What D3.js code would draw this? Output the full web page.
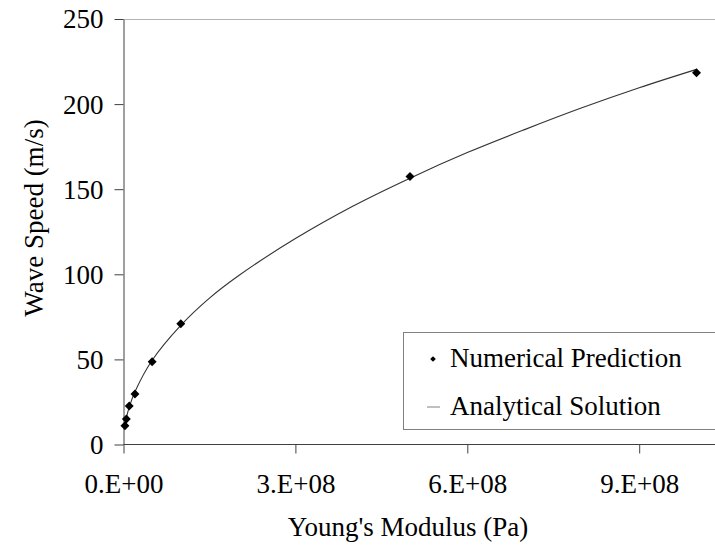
<!DOCTYPE html>
<html>
<head>
<meta charset="utf-8">
<script src="https://cdn.jsdelivr.net/npm/d3@7/dist/d3.min.js"></script>
<style>
  body { margin: 0; background: #fff; }
  svg { display: block; }
</style>
</head>
<body>
<svg id="chart" width="715" height="550" font-family="Liberation Serif"></svg>
<script>
// numerical prediction points (E in Pa, wave speed in m/s)
const numE = [2.5e6, 5e6, 1e7, 2e7, 5e7, 1e8, 5e8, 1e9];
const numSpeed = [11, 15, 22.6, 29.7, 48.6, 71, 157.5, 218.4];

// analytical curve
const anaE = [2.5e6, 5e6, 1e7, 2e7, 5e7, 1e8, 1.5e8, 2e8, 3e8, 4e8, 5e8, 6e8, 7e8, 8e8, 9e8, 1e9];
const anaSpeed = [11, 15.6, 22, 31, 49.5, 70, 86, 99, 121, 140, 156.5, 171.5, 185, 197.8, 209.6, 220.4];

const xTicks = [0, 3e8, 6e8, 9e8];
const xTickLabels = ['0.E+00', '3.E+08', '6.E+08', '9.E+08'];
const yTicks = [0, 50, 100, 150, 200, 250];

const svg = d3.select('svg#chart');

// No Magic Number !
const plotLeft = 123.5,
  plotTop = 19,
  plotBottom = 444.5,
  pxPer1e8 = 57.3,
  labelFont = 'Liberation Serif',
  fontSize = '27px',
  axisColor = '#404040';

const x = d3.scaleLinear().domain([0, 1e9]).range([plotLeft, plotLeft + pxPer1e8 * 10]);
const y = d3.scaleLinear().domain([0, 250]).range([plotBottom, plotTop]);

function styleText(sel) {
  return sel
    .attr('font-family', labelFont)
    .style('font-family', `"${labelFont}"`)
    .style('font-size', fontSize)
    .attr('fill', '#000');
}

// top border of plot area
svg.append('line')
  .attr('x1', plotLeft).attr('x2', 715)
  .attr('y1', plotTop + 0.5).attr('y2', plotTop + 0.5)
  .attr('stroke', '#b4b4b4').attr('stroke-width', 1.2);

// axes
const yAxis = svg.append('g')
  .attr('transform', `translate(${plotLeft},0)`)
  .call(d3.axisLeft(y).tickValues(yTicks).tickSize(9).tickPadding(11).tickSizeOuter(0));

const xAxis = svg.append('g')
  .attr('transform', `translate(0,${plotBottom})`)
  .call(d3.axisBottom(x).tickValues(xTicks).tickSize(9).tickPadding(20)
    .tickFormat((d, i) => xTickLabels[i]).tickSizeOuter(0));

xAxis.select('.domain').attr('d', `M${plotLeft},0H715`);

[xAxis, yAxis].forEach(function(g) {
  g.attr('font-family', labelFont).attr('font-size', null);
  g.select('.domain').attr('stroke', axisColor);
  g.selectAll('.tick line').attr('stroke', axisColor);
  styleText(g.selectAll('.tick text'));
});
yAxis.selectAll('.tick text').attr('dy', '0.33em');

// analytical solution
const anaData = anaE.map((e, i) => ({ e: e, v: anaSpeed[i] }));
svg.append('path')
  .datum(anaData)
  .attr('d', d3.line().x(d => x(d.e)).y(d => y(d.v)).curve(d3.curveCatmullRom))
  .attr('fill', 'none')
  .attr('stroke', '#333')
  .attr('stroke-width', 1.1);

// numerical prediction markers
const diamond = d3.symbol().type(d3.symbolSquare).size(40);
svg.selectAll('path.pt')
  .data(numE.map((e, i) => ({ e: e, v: numSpeed[i] })))
  .enter()
  .append('path')
  .attr('class', 'pt')
  .attr('d', diamond)
  .attr('transform', d => `translate(${x(d.e)},${y(d.v)}) rotate(45)`)
  .attr('fill', '#000');

// axis titles
styleText(svg.append('text'))
  .attr('x', 408).attr('y', 536)
  .attr('text-anchor', 'middle')
  .text("Young's Modulus (Pa)");

styleText(svg.append('text'))
  .attr('transform', 'translate(43,218) rotate(-90)')
  .attr('text-anchor', 'middle')
  .text('Wave Speed (m/s)');

// legend
const legend = svg.append('g');
legend.append('rect')
  .attr('x', 403.5).attr('y', 332.5)
  .attr('width', 330).attr('height', 97)
  .attr('fill', '#fff')
  .attr('stroke', '#808080');
legend.append('path')
  .attr('d', d3.symbol().type(d3.symbolSquare).size(16))
  .attr('transform', 'translate(433,359) rotate(45)')
  .attr('fill', '#000');
styleText(legend.append('text'))
  .attr('x', 450).attr('y', 367)
  .text('Numerical Prediction');
legend.append('line')
  .attr('x1', 427).attr('x2', 440)
  .attr('y1', 407).attr('y2', 407)
  .attr('stroke', '#808080');
styleText(legend.append('text'))
  .attr('x', 450).attr('y', 415)
  .text('Analytical Solution');
</script>
</body>
</html>
